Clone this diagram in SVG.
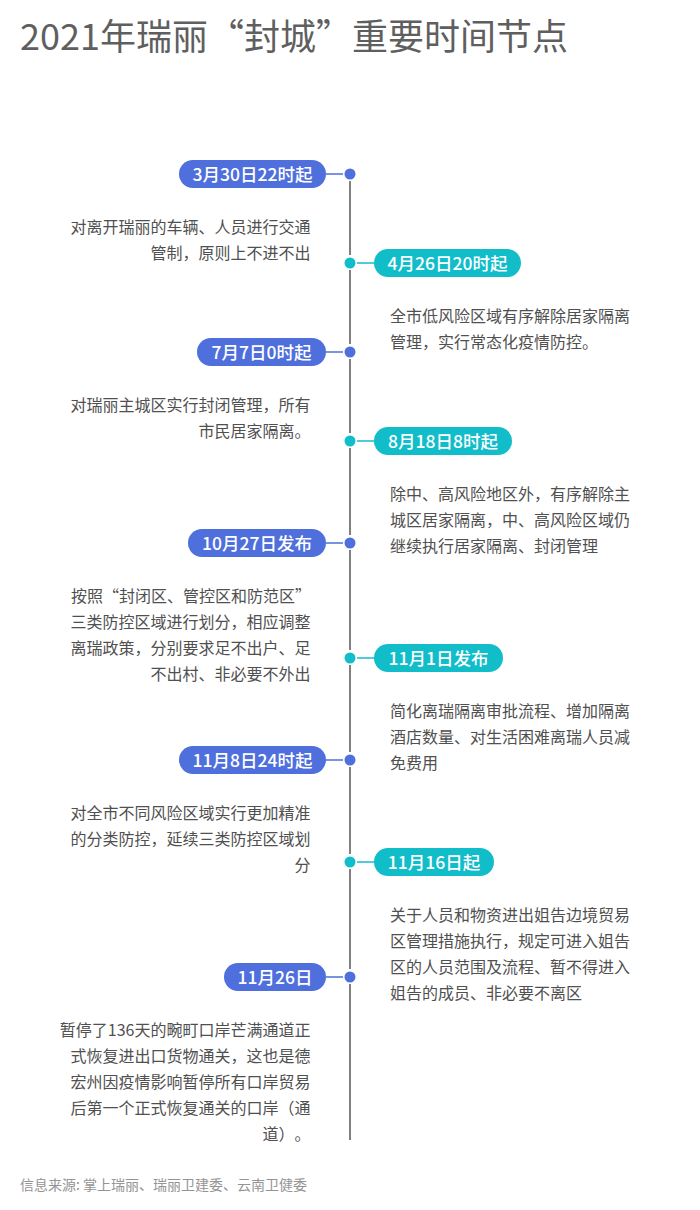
<svg xmlns="http://www.w3.org/2000/svg" width="700" height="1210" viewBox="0 0 700 1210">
<style>
text{font-family:"Noto Sans CJK SC","Noto Sans",sans-serif;text-spacing-trim:space-all;font-kerning:none}
.title{font-size:36px;fill:#5f5f5f}
.b{fill:#4f6fdc}
.t{fill:#12bdca}
.pl{font-size:17.500px;font-weight:500;fill:#fff;text-anchor:middle}
.tx{font-size:16px;fill:#505050}
.r{text-anchor:end}
.src{font-size:14px;fill:#949494}
.ax{stroke:#808080;stroke-width:2;fill:none}
.cb{stroke:#4f6fdc;stroke-width:1.5;fill:none}
.ct{stroke:#12bdca;stroke-width:1.5;fill:none}
</style>
<rect width="700" height="1210" fill="#fff"/>
<text id="title" class="title" x="20" y="50">2021年瑞丽“封城”重要时间节点</text>
<g id="connectors">
<path class="ax" d="M350 181V255M350 270V344M350 359V433M350 448V535M350 550V650M350 665V752M350 767V854M350 869V969M350 984V1140"/>
<path class="cb" d="M326 174H343M326 352H343M326 543H343M326 760H343M326 977H343"/>
<path class="ct" d="M357 263H374M357 441H374M357 658H374M357 862H374"/>
</g>
<g id="n1"><circle class="b" cx="350" cy="174" r="5.500"/><rect class="b" x="179" y="160" width="147" height="28" rx="14"/><text class="pl" x="252.500" y="180.500">3月30日22时起</text><text class="tx r" x="310.500" y="233">对离开瑞丽的车辆、人员进行交通</text><text class="tx r" x="310.500" y="259">管制，原则上不进不出</text></g>
<g id="n2"><circle class="t" cx="350" cy="263" r="5.500"/><rect class="t" x="374" y="249" width="147" height="28" rx="14"/><text class="pl" x="447.500" y="269.500">4月26日20时起</text><text class="tx" x="390" y="322">全市低风险区域有序解除居家隔离</text><text class="tx" x="390" y="348">管理，实行常态化疫情防控。</text></g>
<g id="n3"><circle class="b" cx="350" cy="352" r="5.500"/><rect class="b" x="197" y="338" width="129" height="28" rx="14"/><text class="pl" x="261.500" y="358.500">7月7日0时起</text><text class="tx r" x="310.500" y="411">对瑞丽主城区实行封闭管理，所有</text><text class="tx r" x="310.500" y="437">市民居家隔离。</text></g>
<g id="n4"><circle class="t" cx="350" cy="441" r="5.500"/><rect class="t" x="374" y="427" width="138" height="28" rx="14"/><text class="pl" x="443" y="447.500">8月18日8时起</text><text class="tx" x="390" y="500">除中、高风险地区外，有序解除主</text><text class="tx" x="390" y="526">城区居家隔离，中、高风险区域仍</text><text class="tx" x="390" y="552">继续执行居家隔离、封闭管理</text></g>
<g id="n5"><circle class="b" cx="350" cy="543" r="5.500"/><rect class="b" x="188" y="529" width="138" height="28" rx="14"/><text class="pl" x="257" y="549.500">10月27日发布</text><text class="tx" x="71" y="602">按照“封闭区、管控区和防范区”</text><text class="tx r" x="310.500" y="628">三类防控区域进行划分，相应调整</text><text class="tx r" x="310.500" y="654">离瑞政策，分别要求足不出户、足</text><text class="tx r" x="310.500" y="680">不出村、非必要不外出</text></g>
<g id="n6"><circle class="t" cx="350" cy="658" r="5.500"/><rect class="t" x="374" y="644" width="129" height="28" rx="14"/><text class="pl" x="438.500" y="664.500">11月1日发布</text><text class="tx" x="390" y="717">简化离瑞隔离审批流程、增加隔离</text><text class="tx" x="390" y="743">酒店数量、对生活困难离瑞人员减</text><text class="tx" x="390" y="769">免费用</text></g>
<g id="n7"><circle class="b" cx="350" cy="760" r="5.500"/><rect class="b" x="179" y="746" width="147" height="28" rx="14"/><text class="pl" x="252.500" y="766.500">11月8日24时起</text><text class="tx r" x="310.500" y="819">对全市不同风险区域实行更加精准</text><text class="tx r" x="310.500" y="845">的分类防控，延续三类防控区域划</text><text class="tx r" x="310.500" y="871">分</text></g>
<g id="n8"><circle class="t" cx="350" cy="862" r="5.500"/><rect class="t" x="374" y="848" width="120" height="28" rx="14"/><text class="pl" x="434" y="868.500">11月16日起</text><text class="tx" x="390" y="921">关于人员和物资进出姐告边境贸易</text><text class="tx" x="390" y="947">区管理措施执行，规定可进入姐告</text><text class="tx" x="390" y="973">区的人员范围及流程、暂不得进入</text><text class="tx" x="390" y="999">姐告的成员、非必要不离区</text></g>
<g id="n9"><circle class="b" cx="350" cy="977" r="5.500"/><rect class="b" x="224" y="963" width="102" height="28" rx="14"/><text class="pl" x="275" y="983.500">11月26日</text><text class="tx r" x="310.500" y="1036">暂停了136天的畹町口岸芒满通道正</text><text class="tx r" x="310.500" y="1062">式恢复进出口货物通关，这也是德</text><text class="tx r" x="310.500" y="1088">宏州因疫情影响暂停所有口岸贸易</text><text class="tx r" x="310.500" y="1114">后第一个正式恢复通关的口岸（通</text><text class="tx r" x="310.500" y="1140">道）。</text></g>
<text id="source" class="src" x="20" y="1190">信息来源: 掌上瑞丽、瑞丽卫建委、云南卫健委</text>
</svg>
